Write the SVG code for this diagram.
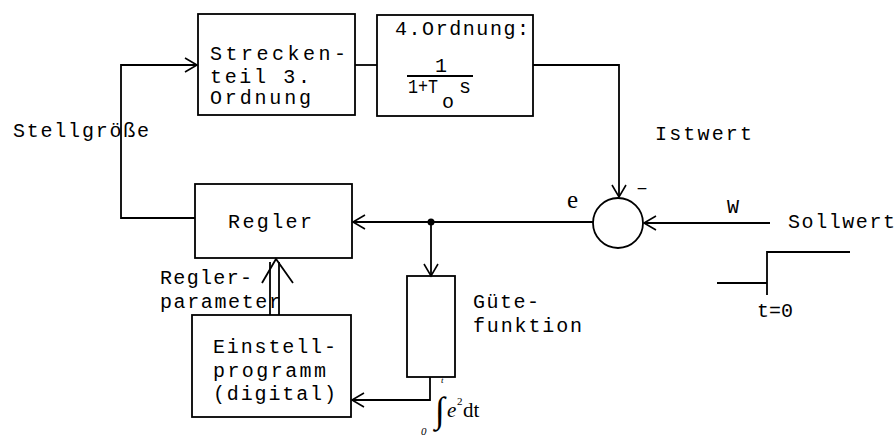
<svg xmlns="http://www.w3.org/2000/svg" width="895" height="436" viewBox="0 0 895 436">
<defs>
<style>
.box{fill:none;stroke:#000;stroke-width:1.8}
.ln{fill:none;stroke:#000;stroke-width:1.8}
.t{font-family:"Liberation Mono","DejaVu Sans Mono",monospace;font-size:20px;fill:#000}
.h{font-family:"Liberation Serif","DejaVu Serif",serif;fill:#000}
</style>
<marker id="arr" viewBox="-14 -9 16 18" refX="0" refY="0" markerWidth="16" markerHeight="18" markerUnits="userSpaceOnUse" orient="auto">
<path d="M-12,-7 L0,0 L-12,7" fill="none" stroke="#000" stroke-width="1.6"/>
</marker>
</defs>
<rect width="895" height="436" fill="#fff"/>

<g id="connectors">
<line class="ln" x1="355" y1="65" x2="377" y2="65"/>
<polyline class="ln" points="533,65 619,65 619,197" marker-end="url(#arr)"/>
<line class="ln" x1="770" y1="223" x2="644" y2="223" marker-end="url(#arr)"/>
<line class="ln" x1="593" y1="222" x2="353" y2="222" marker-end="url(#arr)"/>
<circle cx="431" cy="222" r="3.5" fill="#000"/>
<line class="ln" x1="431" y1="222" x2="431" y2="276" marker-end="url(#arr)"/>
<polyline class="ln" points="430,377 430,400 352,400" marker-end="url(#arr)"/>
<polyline class="ln" points="195,218 121,218 121,65 197,65" marker-end="url(#arr)"/>
<line class="ln" x1="270" y1="315" x2="270" y2="262"/>
<line class="ln" x1="279" y1="315" x2="279" y2="262"/>
<polyline class="ln" points="262,283 276,259 293,283"/>
</g>

<g id="strecke3">
<rect class="box" x="198" y="14" width="157" height="101"/>
<text class="t" x="210" y="60" textLength="136" lengthAdjust="spacing">Strecken-</text>
<text class="t" x="210" y="83" textLength="100" lengthAdjust="spacing">teil 3.</text>
<text class="t" x="210" y="104" textLength="101" lengthAdjust="spacing">Ordnung</text>
</g>

<g id="ordnung4">
<rect class="box" x="377" y="15" width="156" height="101"/>
<text class="t" x="395" y="35" font-size="18" textLength="134" lengthAdjust="spacing">4.Ordnung:</text>
<text class="t" x="435" y="72" font-size="18">1</text>
<line class="ln" x1="407" y1="76" x2="473" y2="76" stroke-width="1.5"/>
<text class="t" x="408" y="93" font-size="16" textLength="30" lengthAdjust="spacingAndGlyphs">1+T</text>
<text class="t" x="442" y="108" font-size="18">o</text>
<text class="t" x="459" y="93" font-size="18">s</text>
</g>

<g id="summing">
<circle class="box" cx="618" cy="223" r="25"/>
<text class="t" x="636" y="194">–</text>
</g>

<g id="regler">
<rect class="box" x="195" y="184" width="157" height="74"/>
<text class="t" x="228" y="228" textLength="84" lengthAdjust="spacing">Regler</text>
</g>

<g id="guete">
<rect class="box" x="407" y="276" width="48" height="101"/>
</g>

<g id="einstell">
<rect class="box" x="192" y="315" width="159" height="102"/>
<text class="t" x="213" y="353" textLength="123" lengthAdjust="spacing">Einstell-</text>
<text class="t" x="213" y="377" textLength="113" lengthAdjust="spacing">programm</text>
<text class="t" x="213" y="400" textLength="123" lengthAdjust="spacing">(digital)</text>
</g>

<g id="sollwert-step">
<polyline class="ln" points="717,283 767,283"/>
<polyline class="ln" points="767,295 767,252 850,252"/>
<text class="t" x="757" y="317" font-size="16" textLength="36" lengthAdjust="spacing">t=0</text>
</g>

<g id="labels">
<text class="t" x="13" y="137" textLength="136" lengthAdjust="spacing">Stellgröße</text>
<text class="t" x="655" y="140" textLength="97" lengthAdjust="spacing">Istwert</text>
<text class="t" x="788" y="228" textLength="107" lengthAdjust="spacing">Sollwert</text>
<text class="h" x="567" y="208" font-size="25">e</text>
<text class="t" x="727" y="213" font-size="19">W</text>
<text class="t" x="160" y="284" textLength="92" lengthAdjust="spacing">Regler-</text>
<text class="t" x="160" y="308" textLength="121" lengthAdjust="spacing">parameter</text>
<text class="t" x="473" y="308" textLength="66" lengthAdjust="spacing">Güte-</text>
<text class="t" x="473" y="332" textLength="109" lengthAdjust="spacing">funktion</text>
<text class="h" x="435" y="422" font-size="36" font-style="italic">∫</text>
<text class="h" x="441" y="383" font-size="9" font-style="italic">t</text>
<text class="h" x="421" y="435" font-size="11" font-style="italic">0</text>
<text class="h" x="447" y="417" font-size="21" font-style="italic">e</text>
<text class="h" x="457" y="405" font-size="11">2</text>
<text class="h" x="463" y="417" font-size="21">dt</text>
</g>
</svg>
